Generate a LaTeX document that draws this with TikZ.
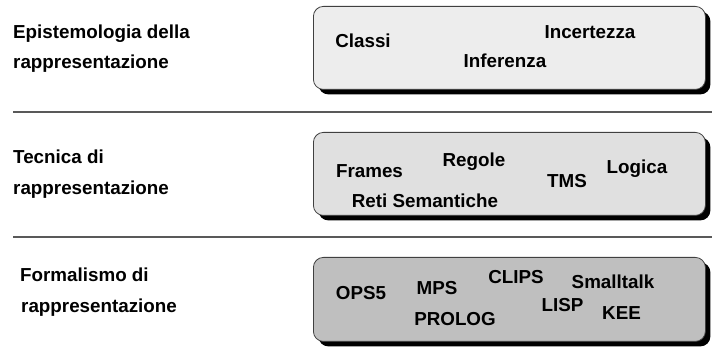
\documentclass[tikz,border=0pt]{standalone}
\usepackage{fontspec}
\setmainfont{Liberation Sans}
\usetikzlibrary{shadows}
\begin{document}
\begin{tikzpicture}[x=1pt,y=-1pt,
  layerbox/.style={draw=black!75,line width=0.8pt,rounded corners=10pt,
    drop shadow={shadow xshift=5pt,shadow yshift=-5pt,fill=black,opacity=1}},
  item/.style={anchor=base,inner sep=0pt,font=\fontsize{18.8}{22}\selectfont\bfseries},
  lbl/.style={anchor=base west,inner sep=0pt,font=\fontsize{18.8}{22}\selectfont\bfseries},
  sep/.style={draw=black!65,line width=1.4pt}]
\useasboundingbox (0,0) rectangle (713,347);
% boxes
\node[layerbox,fill=black!7,minimum width=392pt,minimum height=83pt,anchor=north west] (b1) at (313,6) {};
\node[layerbox,fill=black!12,minimum width=392pt,minimum height=83pt,anchor=north west] (b2) at (313,132) {};
\node[layerbox,fill=black!25,minimum width=392pt,minimum height=84pt,anchor=north west] (b3) at (313,257) {};
% separators
\coordinate (s1a) at (13,112); \coordinate (s1b) at (712,112);
\coordinate (s2a) at (13,237); \coordinate (s2b) at (712,237);
\draw[sep] (s1a) -- (s1b);
\draw[sep] (s2a) -- (s2b);
% left labels
\node[lbl] (l1a) at (13,39) {Epistemologia della};
\node[lbl] (l1b) at (13,69) {rappresentazione};
\node[lbl] (l2a) at (13,164) {Tecnica di};
\node[lbl] (l2b) at (13,195) {rappresentazione};
\node[lbl] (l3a) at (20,282) {Formalismo di};
\node[lbl] (l3b) at (21,313) {rappresentazione};
% layer 1
\node[item] (classi) at (363,48) {Classi};
\node[item] (incert) at (590,39) {Incertezza};
\node[item] (infer) at (505,68) {Inferenza};
% layer 2
\node[item] (regole) at (474,167) {Regole};
\node[item] (frames) at (369.5,178) {Frames};
\node[item] (tms) at (567,188) {TMS};
\node[item] (logica) at (637,174) {Logica};
\node[item] (reti) at (425,208) {Reti Semantiche};
% layer 3
\node[item] (ops) at (361,300) {OPS5};
\node[item] (mps) at (437,295) {MPS};
\node[item] (clips) at (516,284) {CLIPS};
\node[item] (small) at (613,289) {Smalltalk};
\node[item] (lisp) at (562.5,312) {LISP};
\node[item] (prolog) at (455,326) {PROLOG};
\node[item] (kee) at (621.5,320) {KEE};
\end{tikzpicture}
\end{document}
